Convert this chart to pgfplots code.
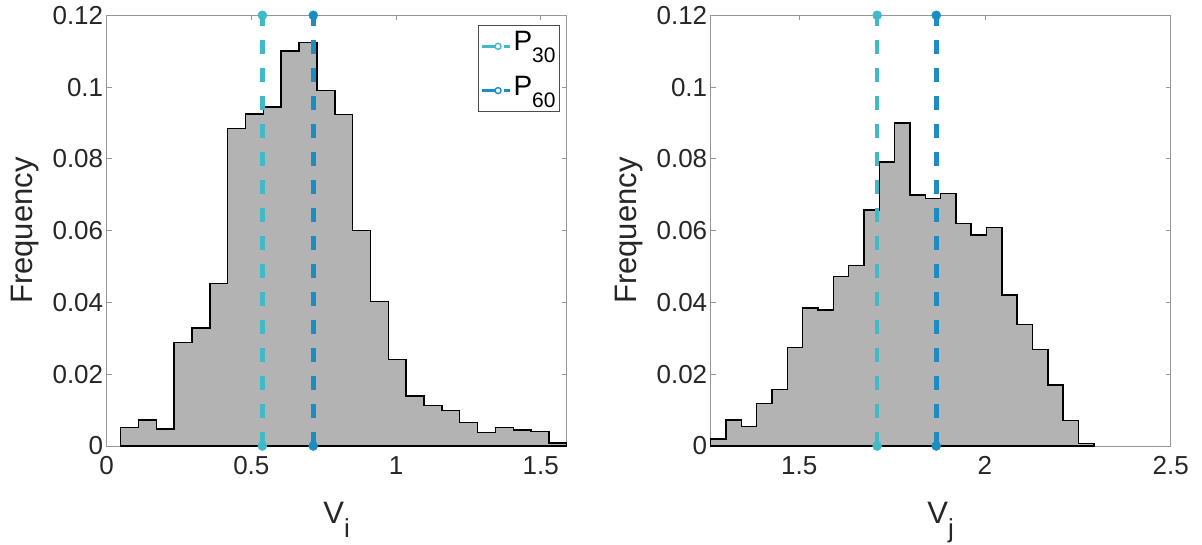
\documentclass[border=0pt]{standalone}
\usepackage{fontspec}
\setmainfont{Liberation Sans}
\usepackage{pgfplots}
\pgfplotsset{compat=1.18}
\definecolor{pthirty}{RGB}{64,185,200}
\definecolor{psixty}{RGB}{28,141,195}
\definecolor{histgray}{RGB}{179,179,179}
\definecolor{axgray}{RGB}{150,150,150}
\definecolor{txt}{RGB}{38,38,38}
\newcommand{\lsub}[1]{\raisebox{-12pt}[0pt][0pt]{\fontsize{21}{22}\selectfont #1}}
\newcommand{\xsub}[1]{\raisebox{-14pt}{\fontsize{26}{28}\selectfont #1}}
\pgfplotsset{
  myaxis/.style={
    scale only axis,
    width=460pt, height=430.7pt,
    ymin=0, ymax=0.12,
    ytick={0,0.02,0.04,0.06,0.08,0.1,0.12},
    yticklabels={0,0.02,0.04,0.06,0.08,0.1,0.12},
    tick align=inside,
    major tick length=5pt,
    axis line style={axgray, line width=0.8pt},
    tick style={axgray, line width=0.8pt},
    ticklabel style={font=\fontsize{26}{30}\selectfont, text=txt},
    xticklabel style={yshift=-7pt},
    label style={font=\fontsize{31}{36}\selectfont, text=txt},
    ylabel style={at={(axis description cs:-0.178,0.5)}, anchor=center},
    xlabel style={at={(axis description cs:0.5,-0.179)}, anchor=base},
    ylabel={Frequency},
    clip=false,
  },
  pline/.style={color=#1, line width=4.5pt, dash pattern=on 14pt off 14pt,
    mark=*, mark size=4.5pt, mark options={solid, fill=#1, draw=#1, line width=0.5pt}},
}
\begin{document}
\begin{tikzpicture}[x=1pt,y=1pt]
\path[use as bounding box] (0,0) rectangle (1202,545);
% Left axis
\begin{axis}[myaxis,
  at={(106.7pt,99pt)}, anchor=south west,
  xmin=0, xmax=1.59,
  xtick={0,0.5,1,1.5}, xticklabels={0,0.5,1,1.5},
  xlabel={V\xsub{i}},
  legend style={at={(axis description cs:0.9854,0.9768)}, anchor=north east,
    draw=black!70, line width=0.8pt, font=\fontsize{28}{30}\selectfont,
    inner xsep=2pt, inner ysep=4pt, row sep=11pt, cells={anchor=west},
    nodes={inner sep=2pt, text depth=10pt}},
  legend image code/.code={
    \draw[#1, solid, line width=3pt] (0pt,0pt) -- (16pt,0pt);
    \draw[#1, solid, fill=white, line width=1.4pt] (16pt,0pt) circle (3pt);
    \draw[#1, solid, line width=3pt] (22pt,0pt) -- (28pt,0pt);
  },
]
\addplot[const plot, fill=histgray, draw=black, line width=1.5pt, forget plot] coordinates {
(0.0480,0.0051)(0.1097,0.0072)(0.1714,0.0048)(0.2331,0.0288)(0.2948,0.0329)
(0.3565,0.0453)(0.4182,0.0884)(0.4799,0.0925)(0.5416,0.0944)(0.6033,0.1101)
(0.6650,0.1124)(0.7267,0.0991)(0.7884,0.0923)(0.8501,0.0601)(0.9118,0.0402)
(0.9735,0.0241)(1.0352,0.0139)(1.0969,0.0113)(1.1586,0.0099)(1.2203,0.0066)
(1.2820,0.0038)(1.3437,0.0051)(1.4054,0.0044)(1.4671,0.0040)(1.5288,0.0008)
(1.5900,0.0008)} \closedcycle;
\addplot[pline=pthirty] coordinates {(0.538,0) (0.538,0.12)};
\addlegendentry{P\lsub{30}}
\addplot[pline=psixty] coordinates {(0.714,0) (0.714,0.12)};
\addlegendentry{P\lsub{60}}
\end{axis}
% Right axis
\begin{axis}[myaxis,
  at={(710.7pt,99pt)}, anchor=south west,
  xmin=1.262, xmax=2.5,
  xtick={1.5,2,2.5}, xticklabels={1.5,2,2.5},
  xlabel={V\xsub{j}},
]
\addplot[const plot, fill=histgray, draw=black, line width=1.5pt, forget plot] coordinates {
(1.2620,0.0020)(1.3032,0.0072)(1.3445,0.0054)(1.3857,0.0119)(1.4270,0.0158)
(1.4682,0.0275)(1.5094,0.0384)(1.5507,0.0379)(1.5919,0.0472)(1.6332,0.0503)
(1.6744,0.0657)(1.7156,0.0791)(1.7569,0.0900)(1.7981,0.0699)(1.8394,0.0689)
(1.8806,0.0704)(1.9218,0.0620)(1.9631,0.0588)(2.0043,0.0609)(2.0456,0.0421)
(2.0868,0.0339)(2.1280,0.0269)(2.1693,0.0170)(2.2105,0.0071)(2.2518,0.0007)
(2.2930,0.0007)} \closedcycle;
\addplot[pline=pthirty] coordinates {(1.710,0) (1.710,0.12)};
\addplot[pline=psixty] coordinates {(1.869,0) (1.869,0.12)};
\end{axis}
\end{tikzpicture}
\end{document}
